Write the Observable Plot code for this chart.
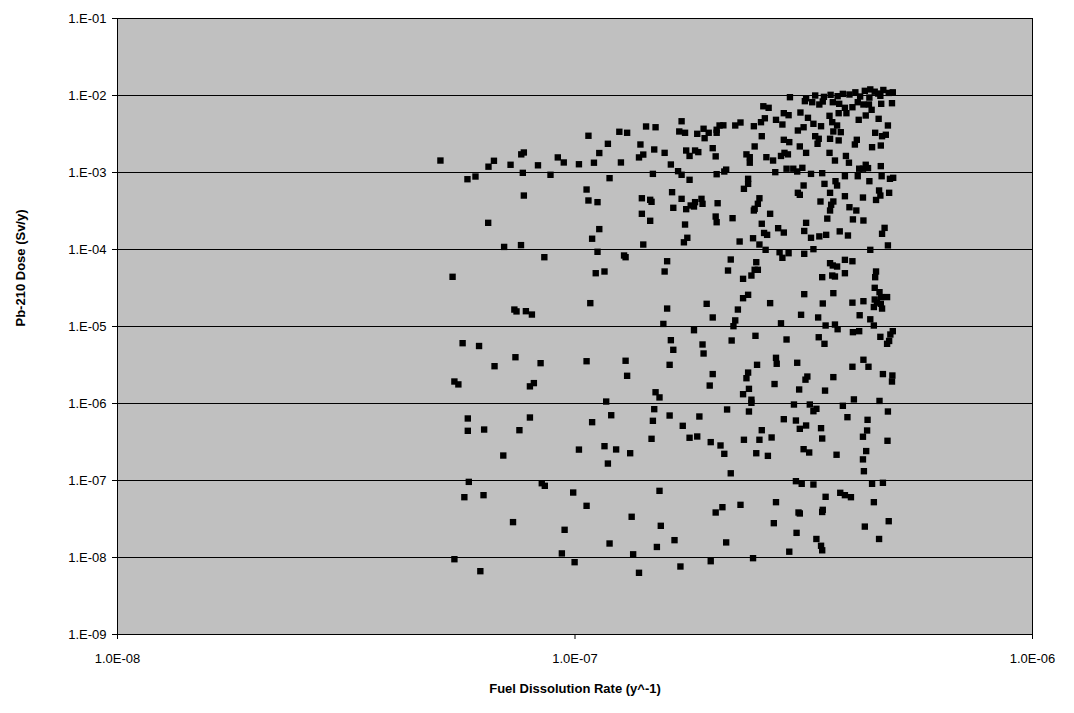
<!DOCTYPE html>
<html>
<head>
<meta charset="utf-8">
<script src="https://cdn.jsdelivr.net/npm/d3@7"></script>
<script src="https://cdn.jsdelivr.net/npm/@observablehq/plot@0.6"></script>
<style>
  html, body { margin: 0; padding: 0; background: #ffffff; }
  #chart { width: 1074px; height: 713px; }
</style>
</head>
<body>
<div id="chart"></div>
<script>
// Fuel dissolution rate (y^-1)
const rate = [
  5.08e-8,6.65e-8,6.47e-8,7.23e-8,7.73e-8,7.63e-8,8.30e-8,7.69e-8,5.82e-8,6.06e-8,7.73e-8,6.46e-8,
  8.84e-8,9.17e-8,9.45e-8,1.02e-7,1.07e-7,1.06e-7,1.07e-7,1.12e-7,1.10e-7,1.13e-7,1.18e-7,1.19e-7,1.25e-7,1.30e-7,1.26e-7,1.43e-7,1.50e-7,1.39e-7,1.38e-7,1.41e-7,1.49e-7,1.57e-7,1.48e-7,1.40e-7,1.46e-7,1.47e-7,1.40e-7,1.46e-7,1.71e-7,1.69e-7,1.74e-7,1.62e-7,1.68e-7,1.71e-7,1.78e-7,1.75e-7,1.78e-7,1.83e-7,1.86e-7,1.63e-7,1.71e-7,1.64e-7,1.75e-7,1.79e-7,1.83e-7,1.82e-7,1.89e-7,1.90e-7,2.05e-7,2.03e-7,2.04e-7,1.74e-7,1.85e-7,1.91e-7,1.92e-7,1.96e-7,2.04e-7,2.04e-7,2.07e-7,2.11e-7,2.00e-7,2.03e-7,2.04e-7,2.12e-7,
  2.58e-7,2.65e-7,2.86e-7,2.93e-7,3.11e-7,3.23e-7,3.18e-7,3.30e-7,3.42e-7,3.48e-7,3.66e-7,3.78e-7,3.89e-7,4.04e-7,4.15e-7,4.27e-7,4.39e-7,4.45e-7,4.67e-7,4.93e-7,3.77e-7,3.92e-7,4.32e-7,3.60e-7,
  2.60e-7,2.55e-7,2.75e-7,2.84e-7,4.17e-7,4.61e-7,3.65e-7,3.32e-7,3.45e-7,3.74e-7,2.24e-7,2.30e-7,2.46e-7,4.83e-7,3.16e-7,3.07e-7,3.67e-7,3.81e-7,4.53e-7,4.78e-7,4.69e-7,2.56e-7,3.35e-7,3.41e-7,3.61e-7,3.77e-7,2.86e-7,2.94e-7,3.39e-7,4.13e-7,
  4.09e-7,2.47e-7,3.10e-7,4.46e-7,4.66e-7,3.20e-7,3.60e-7,2.37e-7,2.41e-7,2.41e-7,2.62e-7,2.71e-7,2.82e-7,2.87e-7,2.92e-7,3.70e-7,3.91e-7,3.97e-7,4.32e-7,4.18e-7,4.26e-7,4.37e-7,4.66e-7,2.14e-7,2.74e-7,2.90e-7,3.00e-7,3.06e-7,3.14e-7,3.28e-7,
  3.47e-7,3.89e-7,4.15e-7,4.68e-7,4.88e-7,4.96e-7,4.40e-7,2.39e-7,2.39e-7,2.34e-7,3.16e-7,3.51e-7,3.71e-7,3.74e-7,3.61e-7,3.07e-7,3.10e-7,3.89e-7,4.26e-7,4.62e-7,4.65e-7,4.86e-7,4.55e-7,2.53e-7,2.51e-7,2.47e-7,2.46e-7,2.67e-7,2.21e-7,2.56e-7,3.44e-7,3.63e-7,3.67e-7,3.61e-7,3.98e-7,4.12e-7,3.56e-7,4.05e-7,4.27e-7,3.20e-7,4.75e-7,
  7.00e-8,7.62e-8,5.40e-8,7.37e-8,7.45e-8,7.81e-8,8.05e-8,5.68e-8,6.17e-8,
  1.13e-7,1.09e-7,1.41e-7,1.76e-7,1.73e-7,8.57e-8,1.12e-7,1.28e-7,1.29e-7,1.59e-7,1.57e-7,1.11e-7,1.16e-7,1.08e-7,1.59e-7,1.94e-7,2.00e-7,1.56e-7,1.82e-7,1.62e-7,1.90e-7,
  2.78e-7,2.86e-7,2.59e-7,2.63e-7,3.17e-7,3.28e-7,3.42e-7,3.54e-7,3.79e-7,3.95e-7,
  4.69e-7,4.83e-7,2.29e-7,2.45e-7,2.53e-7,2.61e-7,2.80e-7,2.84e-7,2.93e-7,3.17e-7,3.32e-7,4.42e-7,
  2.19e-7,2.16e-7,2.49e-7,2.51e-7,2.47e-7,2.43e-7,2.33e-7,3.61e-7,3.66e-7,3.74e-7,3.89e-7,4.04e-7,3.89e-7,3.47e-7,3.65e-7,3.70e-7,4.55e-7,4.53e-7,
  4.52e-7,4.63e-7,4.67e-7,4.81e-7,4.52e-7,4.57e-7,4.66e-7,4.50e-7,4.69e-7,2.39e-7,2.33e-7,2.27e-7,2.67e-7,3.17e-7,3.67e-7,3.48e-7,4.04e-7,4.27e-7,
  4.19e-7,3.12e-7,3.40e-7,4.42e-7,4.50e-7,2.24e-7,2.22e-7,2.82e-7,3.53e-7,3.70e-7,3.75e-7,4.05e-7,4.18e-7,4.95e-7,4.89e-7,4.65e-7,2.20e-7,2.48e-7,2.90e-7,3.41e-7,3.51e-7,4.81e-7,
  6.67e-8,7.41e-8,8.41e-8,5.45e-8,5.56e-8,7.97e-8,8.13e-8,5.83e-8,5.83e-8,6.33e-8,7.56e-8,7.97e-8,6.97e-8,
  1.64e-7,1.91e-7,1.06e-7,1.29e-7,1.61e-7,1.30e-7,2.00e-7,1.97e-7,1.50e-7,1.53e-7,1.17e-7,1.20e-7,1.09e-7,1.49e-7,1.48e-7,1.61e-7,1.87e-7,1.72e-7,1.47e-7,1.78e-7,1.85e-7,1.98e-7,2.08e-7,2.12e-7,1.02e-7,1.16e-7,1.23e-7,1.32e-7,1.18e-7,
  4.86e-7,2.75e-7,2.76e-7,2.50e-7,3.06e-7,2.39e-7,2.37e-7,2.40e-7,2.33e-7,2.43e-7,2.43e-7,2.73e-7,3.22e-7,3.19e-7,3.09e-7,3.67e-7,3.52e-7,4.04e-7,4.27e-7,4.38e-7,4.71e-7,4.94e-7,4.93e-7,
  2.15e-7,2.40e-7,3.01e-7,3.26e-7,3.37e-7,3.32e-7,3.85e-7,4.07e-7,4.63e-7,4.83e-7,2.86e-7,3.04e-7,3.10e-7,3.20e-7,3.45e-7,3.94e-7,4.36e-7,4.35e-7,4.26e-7,2.56e-7,2.34e-7,2.53e-7,2.69e-7,3.47e-7,4.82e-7,2.49e-7,2.64e-7,3.16e-7,3.25e-7,3.73e-7,4.33e-7,4.26e-7,
  5.86e-8,5.73e-8,6.31e-8,7.32e-8,5.45e-8,6.21e-8,
  8.46e-8,8.59e-8,9.91e-8,1.06e-7,1.53e-7,1.33e-7,1.54e-7,9.49e-8,2.03e-7,2.10e-7,1.19e-7,1.65e-7,1.51e-7,2.14e-7,9.36e-8,9.98e-8,1.34e-7,1.38e-7,1.70e-7,1.98e-7,
  2.19e-7,4.28e-7,3.04e-7,3.13e-7,3.32e-7,4.46e-7,4.71e-7,3.53e-7,3.80e-7,3.89e-7,4.01e-7,4.50e-7,2.30e-7,2.75e-7,3.08e-7,3.10e-7,3.48e-7,3.47e-7,2.72e-7,4.30e-7,4.85e-7,3.05e-7,3.37e-7,3.45e-7,3.47e-7,4.62e-7,2.94e-7,2.45e-7,
  2.95e-7,3.20e-7,3.35e-7,3.50e-7,3.62e-7,3.75e-7,3.85e-7,3.98e-7,4.10e-7,4.20e-7,4.30e-7,4.42e-7,4.52e-7,4.60e-7,4.72e-7,4.85e-7,4.95e-7,4.40e-7,4.65e-7
];
// Pb-210 dose (Sv/y)
const dose = [
  1.43e-3,1.42e-3,1.19e-3,1.26e-3,1.82e-3,1.72e-3,1.24e-3,9.9e-4,8.18e-4,8.87e-4,5.02e-4,2.22e-4,
  9.34e-4,1.57e-3,1.35e-3,1.28e-3,3.00e-3,6.01e-4,4.33e-4,4.12e-4,1.34e-3,1.79e-3,2.36e-3,8.44e-4,3.38e-3,3.28e-3,1.35e-3,3.96e-3,3.87e-3,2.31e-3,1.57e-3,1.71e-3,1.99e-3,1.80e-3,9.6e-4,4.63e-4,4.42e-4,4.16e-4,2.91e-4,2.36e-4,4.63e-3,3.41e-3,3.28e-3,1.27e-3,1.04e-3,9.34e-4,8.04e-4,1.93e-3,1.64e-3,1.93e-3,1.84e-3,5.55e-4,4.55e-4,3.48e-4,3.34e-4,3.73e-4,4.12e-4,3.62e-4,4.55e-4,3.92e-4,3.99e-4,2.68e-4,2.26e-4,2.11e-4,3.18e-3,3.70e-3,2.79e-3,3.28e-3,3.28e-3,3.59e-3,4.08e-3,4.10e-3,2.07e-3,1.62e-3,9.5e-4,1.03e-3,
  7.25e-3,6.92e-3,5.89e-3,5.55e-3,6.01e-3,5.13e-3,8.44e-3,8.18e-3,7.64e-3,8.36e-3,8.18e-3,7.80e-3,6.92e-3,7.04e-3,8.18e-3,7.64e-3,7.64e-3,6.52e-3,7.80e-3,7.94e-3,5.89e-3,5.89e-3,5.50e-3,5.45e-3,
  5.06e-3,4.50e-3,4.83e-3,4.20e-3,4.83e-3,4.98e-3,4.50e-3,4.29e-3,3.99e-3,4.08e-3,4.08e-3,4.46e-3,3.99e-3,4.08e-3,3.87e-3,3.51e-3,3.41e-3,3.34e-3,3.28e-3,3.09e-3,2.96e-3,2.96e-3,2.96e-3,2.74e-3,2.74e-3,2.61e-3,2.66e-3,2.48e-3,2.36e-3,2.66e-3,
  2.31e-3,2.18e-3,2.18e-3,2.13e-3,2.24e-3,1.80e-3,1.80e-3,1.72e-3,1.58e-3,1.34e-3,1.58e-3,1.43e-3,1.64e-3,1.80e-3,1.72e-3,1.43e-3,1.64e-3,1.34e-3,1.26e-3,1.12e-3,1.12e-3,1.14e-3,1.21e-3,1.09e-3,1.01e-3,1.12e-3,1.12e-3,1.03e-3,1.15e-3,9.6e-4,
  9.8e-4,8.95e-4,8.95e-4,8.95e-4,8.28e-4,8.53e-4,7.71e-4,8.28e-4,7.12e-4,6.14e-4,6.78e-4,7.12e-4,7.71e-4,6.78e-4,5.45e-4,5.45e-4,5.13e-4,4.92e-4,4.73e-4,5.84e-4,5.02e-4,5.45e-4,4.40e-4,4.63e-4,3.92e-4,3.38e-4,3.21e-4,2.91e-4,2.55e-4,2.16e-4,4.20e-4,3.81e-4,4.20e-4,3.21e-4,3.54e-4,3.21e-4,2.52e-4,2.46e-4,2.38e-4,2.22e-4,1.91e-4,
  1.08e-4,1.14e-4,4.42e-5,1.66e-5,1.57e-5,1.58e-5,1.43e-5,6.07e-6,5.58e-6,
  1.84e-4,1.38e-4,1.16e-4,1.42e-4,1.24e-4,7.94e-5,9.34e-5,8.36e-5,7.94e-5,7.04e-5,5.18e-5,4.92e-5,5.18e-5,2.01e-5,1.71e-5,1.97e-5,1.31e-5,1.08e-5,8.95e-6,6.64e-6,5.84e-6,
  1.89e-4,1.66e-4,1.64e-4,1.55e-4,1.74e-4,1.42e-4,1.48e-4,1.55e-4,1.72e-4,1.52e-4,
  1.60e-4,1.13e-4,1.27e-4,1.40e-4,1.16e-4,9.9e-5,9.22e-5,7.80e-5,8.95e-5,8.79e-5,1.01e-4,9.9e-5,
  7.41e-5,5.33e-5,6.84e-5,5.45e-5,5.45e-5,4.59e-5,4.16e-5,6.64e-5,6.20e-5,6.01e-5,7.34e-5,7.04e-5,4.92e-5,4.37e-5,4.59e-5,4.46e-5,5.18e-5,4.37e-5,
  3.18e-5,2.79e-5,2.41e-5,2.41e-5,2.24e-5,2.04e-5,1.97e-5,1.79e-5,1.71e-5,2.58e-5,2.33e-5,1.66e-5,2.01e-5,2.63e-5,2.71e-5,1.99e-5,2.04e-5,2.13e-5,
  1.40e-5,1.42e-5,1.31e-5,1.24e-5,1.03e-5,1.20e-5,1.01e-5,1.10e-5,1.03e-5,1.06e-5,9.22e-6,8.44e-6,8.69e-6,8.69e-6,7.87e-6,7.34e-6,6.58e-6,7.57e-6,6.78e-6,7.25e-6,5.96e-6,5.96e-6,
  3.05e-6,3.99e-6,3.34e-6,1.93e-6,1.77e-6,1.67e-6,1.84e-6,6.39e-7,4.42e-7,4.59e-7,4.50e-7,6.58e-7,2.11e-7,
  4.98e-6,4.46e-6,3.54e-6,3.59e-6,3.18e-6,2.29e-6,2.41e-6,1.71e-6,1.40e-6,1.20e-6,1.06e-6,7.04e-7,5.72e-7,8.44e-7,5.96e-7,6.98e-7,6.78e-7,5.13e-7,3.48e-7,3.59e-7,3.73e-7,3.15e-7,2.85e-7,2.22e-7,2.52e-7,2.79e-7,2.53e-7,2.26e-7,1.66e-7,
  6.49e-6,3.92e-6,3.28e-6,3.18e-6,3.38e-6,2.52e-6,2.13e-6,1.55e-6,1.32e-6,1.12e-6,1.02e-6,1.79e-6,2.24e-6,2.04e-6,1.52e-6,2.20e-6,1.47e-6,3.00e-6,3.70e-6,3.00e-6,2.41e-6,2.31e-6,1.93e-6,
  8.36e-7,7.87e-7,9.70e-7,9.70e-7,8.53e-7,7.94e-7,9.34e-7,1.13e-6,1.08e-6,7.87e-7,6.25e-7,6.01e-7,4.69e-7,5.18e-7,4.78e-7,6.64e-7,6.14e-7,4.46e-7,3.70e-7,4.50e-7,3.38e-7,3.38e-7,3.62e-7,3.51e-7,3.28e-7,2.26e-7,2.09e-7,2.55e-7,2.31e-7,2.16e-7,2.41e-7,1.88e-7,
  9.6e-8,6.07e-8,6.45e-8,2.88e-8,9.5e-9,6.64e-9,
  9.22e-8,8.53e-8,6.98e-8,4.69e-8,7.34e-8,3.38e-8,2.58e-8,2.29e-8,3.84e-8,4.50e-8,1.52e-8,1.68e-8,1.37e-8,1.57e-8,1.13e-8,8.69e-9,1.10e-8,6.33e-9,7.64e-9,8.95e-9,
  1.24e-7,1.32e-7,9.8e-8,9.06e-8,8.87e-8,9.06e-8,9.34e-8,6.14e-8,6.92e-8,6.45e-8,6.07e-8,5.23e-8,4.83e-8,5.23e-8,3.84e-8,3.73e-8,4.16e-8,3.90e-8,2.79e-8,2.52e-8,2.96e-8,2.09e-8,1.74e-8,1.42e-8,1.24e-8,1.74e-8,1.19e-8,9.8e-9,
  9.5e-3,9.2e-3,1.00e-2,9.6e-3,1.02e-2,9.8e-3,1.05e-2,1.03e-2,1.10e-2,9.7e-3,1.15e-2,1.20e-2,1.12e-2,1.06e-2,1.18e-2,1.08e-2,1.10e-2,9.4e-3,9.9e-3
];
const yTicks = [1e-9, 1e-8, 1e-7, 1e-6, 1e-5, 1e-4, 1e-3, 1e-2, 1e-1];
const yTickLabels = ["1.E-09","1.E-08","1.E-07","1.E-06","1.E-05","1.E-04","1.E-03","1.E-02","1.E-01"];
const xTicks = [1e-8, 1e-7, 1e-6];
const xTickLabels = ["1.0E-08","1.0E-07","1.0E-06"];
const xTitle = "Fuel Dissolution Rate (y^-1)";
const yTitle = "Pb-210 Dose (Sv/y)";

const points = rate.map((r, i) => ({rate: r, dose: dose[i]}));
const font = "'Liberation Sans', Arial, Helvetica, sans-serif";

const chart = Plot.plot({
  width: 1074,
  height: 713,
  marginLeft: 117,
  marginRight: 42,
  marginTop: 18,
  marginBottom: 79,
  style: {fontFamily: font, fontSize: "13px", background: "#ffffff", color: "#000000", overflow: "visible"},
  x: {type: "log", domain: [1e-8, 1e-6]},
  y: {type: "log", domain: [1e-9, 1e-1]},
  marks: [
    Plot.frame({fill: "#c0c0c0", stroke: null}),
    Plot.ruleY(yTicks.slice(1, -1), {stroke: "#000000", strokeWidth: 1}),
    Plot.dot(points, {x: "rate", y: "dose", symbol: "square", fill: "#000000", stroke: null, r: 3.6}),
    Plot.frame({stroke: "#000000", fill: null}),
    Plot.axisY({ticks: yTicks, tickFormat: d => yTickLabels[yTicks.indexOf(d)], tickSize: 5, tickPadding: 6, label: null, fontSize: 13}),
    Plot.axisX({ticks: xTicks, tickFormat: d => xTickLabels[xTicks.indexOf(d)], tickSize: 5, tickPadding: 14, label: null, fontSize: 13}),
    Plot.text([xTitle], {text: d => d, frameAnchor: "bottom", dy: 58, fontWeight: "bold", fontSize: 13}),
    Plot.text([yTitle], {text: d => d, frameAnchor: "left", dx: -97, rotate: -90, fontWeight: "bold", fontSize: 13})
  ]
});
document.getElementById("chart").appendChild(chart);
</script>
</body>
</html>
